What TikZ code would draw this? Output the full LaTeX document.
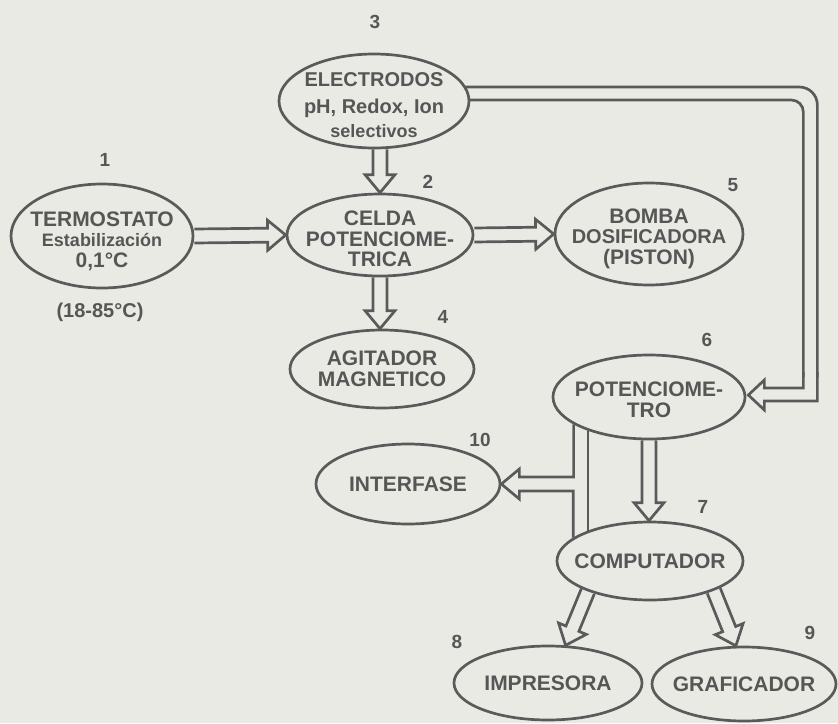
\documentclass[tikz,border=0pt]{standalone}
\usepackage{fontspec}
\setmainfont{Liberation Sans}
\usetikzlibrary{calc,shapes.geometric}
\definecolor{bg}{RGB}{234,234,229}
\definecolor{lc}{RGB}{90,90,90}
\definecolor{tc}{RGB}{86,86,86}
\newcommand\et[2][-8pt]{\makebox[0pt]{\raisebox{#1}[0pt][0pt]{\begin{tabular}{@{}c@{}}#2\end{tabular}}}}
\newcommand\fatarr[2]{%
  \path (#1) coordinate (fa) (#2) coordinate (fb);
  \coordinate (fh) at ($(fb)!18pt!(fa)$);
  \draw[conn] ($(fa)!7pt!90:(fb)$) -- ($(fh)!7pt!90:(fb)$) -- ($(fh)!15pt!90:(fb)$) -- (fb)
     -- ($(fh)!15pt!-90:(fb)$) -- ($(fh)!7pt!-90:(fb)$) -- ($(fa)!7pt!-90:(fb)$);
}
\tikzset{
  ell/.style={draw=lc, line width=2.7pt, ellipse, inner sep=0pt, text=tc,
    font=\bfseries\fontsize{21}{20}\selectfont},
  conn/.style={draw=lc, line width=2.7pt, line join=miter},
  num/.style={text=tc, inner sep=0pt, font=\bfseries\fontsize{19}{20}\selectfont},
}
\begin{document}
\begin{tikzpicture}[x=1pt,y=-1pt]
\fill[bg] (0,0) rectangle (838,723);
\useasboundingbox (0,0) rectangle (838,723);

% ellipses
\node[ell, minimum width=190pt, minimum height=94pt] (elec) at (374,101)
  {\et[-12pt]{{\fontsize{20}{20}\selectfont ELECTRODOS}\\[7pt] {\fontsize{20}{20}\selectfont pH, Redox, Ion}\\[4pt] {\fontsize{18}{20}\selectfont selectivos}}};
\node[ell, minimum width=182pt, minimum height=104pt] (term) at (102,236)
  {\et[-12pt]{TERMOSTATO\\ {\fontsize{18}{20}\selectfont Estabilización}\\ 0,1°C}};
\node[ell, minimum width=186pt, minimum height=82pt] (celda) at (380,235)
  {\et[-12pt]{CELDA\\ POTENCIOME-\\ TRICA}};
\node[ell, minimum width=188pt, minimum height=102pt] (bomba) at (649,234)
  {\et[-11pt]{BOMBA\\ {\fontsize{20}{20}\selectfont DOSIFICADORA}\\ (PISTON)}};
\node[ell, minimum width=184pt, minimum height=78pt] (agit) at (382,369)
  {\et{AGITADOR\\ MAGNETICO}};
\node[ell, minimum width=192pt, minimum height=84pt] (pot) at (649,397)
  {\et[-11pt]{POTENCIOME-\\ TRO}};
\node[ell, minimum width=184pt, minimum height=80pt] (inter) at (408,484)
  {\et{INTERFASE}};
\node[ell, minimum width=186pt, minimum height=78pt] (comp) at (650,561)
  {\et{COMPUTADOR}};
\node[ell, minimum width=188pt, minimum height=74pt] (impr) at (548,683)
  {\et{IMPRESORA}};
\node[ell, minimum width=184pt, minimum height=74pt] (graf) at (744,684)
  {\et{GRAFICADOR}};

% numbers
\node[num] (n3) at (375,22) {3};
\node[num] (n1) at (105,160) {1};
\node[num] (n2) at (428,182) {2};
\node[num] (n5) at (733,185) {5};
\node[num] (n4) at (443,317) {4};
\node[num] (n6) at (707,340) {6};
\node[num] (n10) at (480,440) {10};
\node[num] (n7) at (703,507) {7};
\node[num] (n8) at (457,642) {8};
\node[num] (n9) at (810,633) {9};
\node[num, font=\bfseries\fontsize{20}{20}\selectfont] (range) at (100,312) {(18-85°C)};

% straight double arrows
\fatarr{term.east}{celda.west}
\fatarr{elec.south -| celda.north}{celda.north}
\fatarr{celda.south}{celda.south |- agit.north}
\fatarr{celda.east}{bomba.west}
\fatarr{pot.south}{pot.south |- comp.north}
\fatarr{comp.206}{impr.65}
\fatarr{comp.335}{graf.102}

% electrodos -> potenciometro
\draw[conn, rounded corners=18pt] ($(elec.east)+(-5,-14)$) -| ($(pot.east)+(71,-20)$);
\draw[conn, rounded corners=12pt] ($(elec.east)+(-1,-1)$) -| ($(pot.east)+(57,-20)$);
\draw[conn] ($(pot.east)+(71,-25)$) |- ($(pot.east)+(18,4)$) -- ++(0,9)
  -- ($(pot.east)+(2,-2)$) -- ($(pot.east)+(18,-17)$) -- ++(0,8) -| ($(pot.east)+(57,-25)$);

% potenciometro <-> computador with branch to interfase
\draw[conn] (pot.200) |- ($(inter.east)+(18,-7)$) -- ++(0,-8) -- (inter.east)
  -- ++(18,15) -- ++(0,-8) -| (comp.163);
\draw[conn] (pot.209) -- (pot.209 |- comp.154);
\end{tikzpicture}
\end{document}
